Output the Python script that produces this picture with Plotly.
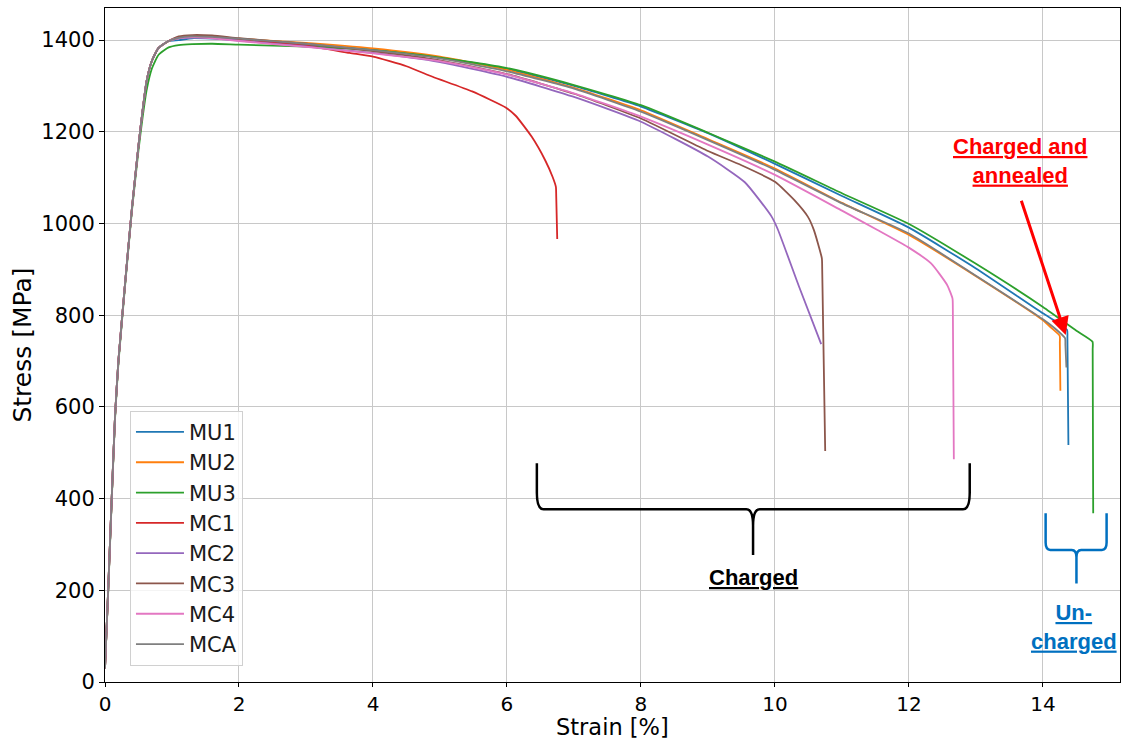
import plotly.graph_objects as go

# ---------------- data (strain [%], stress [MPa]) ----------------
elastic_strain = [0, 0.05, 0.1, 0.15, 0.2, 0.3, 0.4, 0.5, 0.56, 0.62, 0.7, 0.8, 0.95, 1.1, 1.3, 1.6]
elastic_stress = [30, 210, 400, 580, 700, 870, 1030, 1170, 1245, 1310, 1355, 1383, 1398, 1405, 1409, 1408]
elastic_stress_mu3 = [30, 205, 395, 575, 695, 865, 1025, 1160, 1230, 1290, 1338, 1368, 1384, 1389, 1391, 1392]

mu1_strain = elastic_strain + [2, 3, 4, 5, 6, 7, 8, 9, 10, 11, 12, 13, 14, 14.2, 14.36, 14.365, 14.38]
mu1_stress = elastic_stress[:-3] + [1400, 1404, 1403,
              1400, 1390, 1379, 1362, 1337, 1300, 1255, 1197, 1130, 1060, 991, 902, 804, 786, 768, 750, 517]

mu2_strain = elastic_strain + [2, 3, 4, 5, 6, 7, 8, 9, 10, 11, 12, 13, 14, 14.12, 14.25, 14.252, 14.26]
mu2_stress = elastic_stress + [1403, 1394, 1382, 1364, 1335, 1296, 1247, 1184, 1120, 1045, 975, 885, 789,
                               773, 755, 740, 635]

mu3_strain = elastic_strain + [2, 3, 4, 5, 6, 7, 8, 9, 10, 11, 12, 13, 14, 14.5, 14.74, 14.742, 14.75]
mu3_stress = elastic_stress_mu3 + [1390, 1386, 1378, 1362, 1339, 1302, 1258, 1198, 1135, 1066, 999, 912, 818,
                                   766, 742, 725, 368]

mc1_strain = elastic_strain + [2, 3, 3.65, 4, 4.5, 4.89, 5.48, 5.98, 6.13, 6.37, 6.57, 6.68, 6.73, 6.735, 6.75]
mc1_stress = elastic_stress + [1401, 1388, 1372, 1364, 1343, 1320, 1288, 1253, 1235, 1189, 1138, 1102, 1080,
                               1060, 966]

mc2_strain = elastic_strain + [2, 3, 4, 5, 6, 7, 8, 9, 9.55, 9.95, 10.04, 10.36, 10.69]
mc2_stress = elastic_stress[:-3] + [1404, 1406, 1405,
              1399, 1386, 1372, 1352, 1320, 1276, 1222, 1146, 1090, 1015, 988, 862, 737]

mc3_strain = elastic_strain + [2, 3, 4, 5, 6, 7, 8, 9, 9.5, 10, 10.29, 10.49, 10.58, 10.70, 10.705, 10.75]
mc3_stress = elastic_stress[:-3] + [1408, 1411, 1410,
              1404, 1392, 1376, 1356, 1326, 1283, 1229, 1158, 1127, 1091, 1051, 1015, 986, 924, 900, 504]

mc4_strain = elastic_strain + [2, 3, 4, 5, 6, 7, 8, 9, 10, 11, 11.53, 11.98, 12.33, 12.57, 12.65, 12.655, 12.67]
mc4_stress = elastic_stress[:-3] + [1404, 1406, 1404,
              1398, 1385, 1371, 1354, 1325, 1284, 1233, 1172, 1106, 1028, 986, 949, 913, 866, 836, 815, 486]

mca_strain = elastic_strain + [2, 3, 4, 5, 6, 7, 8, 9, 10, 11, 12, 13, 14, 14.18, 14.33, 14.335, 14.35]
mca_stress = elastic_stress[:-3] + [1405, 1408, 1407,
              1403, 1392, 1378, 1360, 1332, 1294, 1244, 1182, 1117, 1044, 978, 886, 791, 771, 750, 735, 686]

series_names = ["MU1", "MU2", "MU3", "MC1", "MC2", "MC3", "MC4", "MCA"]
series_x = [mu1_strain, mu2_strain, mu3_strain, mc1_strain, mc2_strain, mc3_strain, mc4_strain, mca_strain]
series_y = [mu1_stress, mu2_stress, mu3_stress, mc1_stress, mc2_stress, mc3_stress, mc4_stress, mca_stress]
colors = ["#1f77b4", "#ff7f0e", "#2ca02c", "#d62728", "#9467bd", "#8c564b", "#e377c2", "#7f7f7f"]

x_ticks = [0, 2, 4, 6, 8, 10, 12, 14]
y_ticks = [0, 200, 400, 600, 800, 1000, 1200, 1400]

# ---------------- figure ----------------
fig = go.Figure()
for name, xs, ys, c in zip(series_names, series_x, series_y, colors):
    fig.add_trace(go.Scatter(x=xs, y=ys, mode="lines", name=name,
                             line=dict(color=c, width=1.8, shape="spline", smoothing=0.5)))


def brace_path(x0, x1, xm, ytop, ybar, ytip, rx, ry):
    """Curly brace opening upward with a downward tip, in data coordinates."""
    return (f"M {x0},{ytop} L {x0},{ybar + ry} Q {x0},{ybar} {x0 + rx},{ybar} "
            f"L {xm - rx},{ybar} Q {xm},{ybar} {xm},{ybar - ry} L {xm},{ytip} "
            f"L {xm},{ybar - ry} Q {xm},{ybar} {xm + rx},{ybar} "
            f"L {x1 - rx},{ybar} Q {x1},{ybar} {x1},{ybar + ry} L {x1},{ytop}")


# Charged brace
fig.add_shape(type="path", xref="x", yref="y",
              path=brace_path(6.446, 12.907, 9.673, 477, 376.6, 277, 0.1, 36),
              line=dict(color="black", width=2.5))
# Un-charged brace
fig.add_shape(type="path", xref="x", yref="y",
              path=brace_path(14.04, 14.95, 14.50, 368, 288, 215, 0.07, 16),
              line=dict(color="#0070C0", width=2.5))

ann_font = "Liberation Sans, Arial, sans-serif"
fig.add_annotation(x=9.673, y=229, xref="x", yref="y", showarrow=False,
                   text="<b><u>Charged</u></b>",
                   font=dict(family=ann_font, size=22, color="black"))
fig.add_annotation(x=14.47, y=120, xref="x", yref="y", showarrow=False,
                   text="<b><u>Un-</u></b><br><b><u>charged</u></b>",
                   font=dict(family=ann_font, size=22, color="#0070C0"))
fig.add_annotation(x=13.65, y=1137, xref="x", yref="y", showarrow=False,
                   text="<b><u>Charged and</u></b><br><b><u>annealed</u></b>",
                   font=dict(family=ann_font, size=22, color="#FF0000"))
fig.add_annotation(x=14.34, y=757, ax=13.67, ay=1053, xref="x", yref="y",
                   axref="x", ayref="y", text="", showarrow=True,
                   arrowhead=2, arrowsize=1.2, arrowwidth=3, arrowcolor="#FF0000",
                   standoff=0, startstandoff=0)

axis_font = "DejaVu Sans, sans-serif"
# x-axis title as a paper-anchored text below the tick labels
fig.add_annotation(x=0.5, y=-0.0883, xref="paper", yref="paper", xanchor="center", yanchor="bottom",
                   showarrow=False, text="Strain [%]",
                   font=dict(family=axis_font, size=22.5, color="black"))

fig.update_xaxes(range=[0, 15.15], tickvals=x_ticks, ticktext=[str(v) for v in x_ticks],
                 showgrid=True, gridcolor="#c8c8c8", gridwidth=1, zeroline=False,
                 showline=True, mirror=True, linecolor="black", linewidth=1,
                 ticks="outside", ticklen=4, tickcolor="black",
                 tickfont=dict(family=axis_font, size=20, color="black"))
fig.update_yaxes(range=[0, 1470], tickvals=y_ticks, ticktext=[str(v) for v in y_ticks],
                 showgrid=True, gridcolor="#c8c8c8", gridwidth=1, zeroline=False,
                 showline=True, mirror=True, linecolor="black", linewidth=1,
                 ticks="outside", ticklen=5, tickcolor="black",
                 tickfont=dict(family=axis_font, size=21, color="black"),
                 title=dict(text="Stress [MPa]", font=dict(family=axis_font, size=25, color="black"),
                            standoff=2))

fig.update_layout(
    width=1128, height=742,
    margin=dict(l=105, r=8, t=8, b=60, autoexpand=False),
    paper_bgcolor="white", plot_bgcolor="white",
    legend=dict(x=0.0246, y=0.024, xanchor="left", yanchor="bottom",
                bgcolor="rgba(255,255,255,0.8)", bordercolor="#d0d0d0", borderwidth=1,
                font=dict(family=axis_font, size=21, color="#1a1a1a"),
                itemwidth=48, tracegroupgap=0),
    showlegend=True,
)

fig.write_html("out.html")
